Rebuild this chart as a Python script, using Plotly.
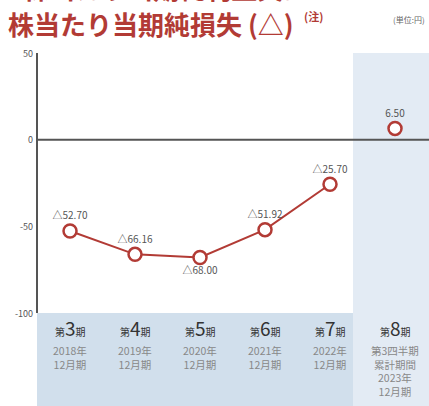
import plotly.graph_objects as go

periods = ["3", "4", "5", "6", "7", "8"]
years = ["2018年<br>12月期", "2019年<br>12月期", "2020年<br>12月期", "2021年<br>12月期", "2022年<br>12月期",
         "第3四半期<br>累計期間<br>2023年<br>12月期"]
values = [-52.70, -66.16, -68.00, -51.92, -25.70]
value_labels = ["△52.70", "△66.16", "△68.00", "△51.92", "△25.70"]
label_pos = ["top center", "top center", "bottom center", "top center", "top center"]
q3_value = [6.50]
q3_label = ["6.50"]
y_ticks = [50, 0, -50, -100]

RED = "#b23b35"
FONT = "Noto Sans CJK JP"
W, H = 429, 406
L, T, B = 37, 53, 93
PW, PH = W - L, H - T - B


def px_x(x):
    return (x - L) / PW


def px_y(y):
    return (H - B - y) / PH


fig = go.Figure()
xs = list(range(len(values)))
fig.add_trace(go.Scatter(
    x=xs, y=values, mode="lines+markers+text",
    line=dict(color=RED, width=2),
    marker=dict(size=13, color="white", line=dict(color=RED, width=2.5)),
    text=value_labels, textposition=label_pos,
    textfont=dict(size=10, color="#555", family=FONT),
    cliponaxis=False, showlegend=False))
fig.add_trace(go.Scatter(
    x=[5], y=q3_value, mode="markers+text",
    marker=dict(size=13, color="white", line=dict(color=RED, width=2.5)),
    text=q3_label, textposition="top center",
    textfont=dict(size=10, color="#555", family=FONT),
    cliponaxis=False, showlegend=False))

split = px_x(353)
shapes = [
    dict(type="rect", xref="paper", yref="paper", x0=split, x1=1.01, y0=px_y(H + 2), y1=1,
         fillcolor="#e3ebf4", line=dict(width=0), layer="below"),
    dict(type="rect", xref="paper", yref="paper", x0=0, x1=split, y0=px_y(H + 2), y1=0,
         fillcolor="#d1dfec", line=dict(width=0), layer="below"),
    dict(type="line", xref="paper", yref="y", x0=0, x1=1, y0=0, y1=0,
         line=dict(color="#555", width=2)),
    dict(type="line", xref="paper", yref="paper", x0=0, x1=0, y0=0, y1=1,
         line=dict(color="#555", width=2)),
]

annotations = []
for i, (p, yr) in enumerate(zip(periods, years)):
    annotations.append(dict(
        x=i, xref="x", y=px_y(327), yref="paper", yanchor="middle", showarrow=False,
        text=f"<span style='font-size:10px'>第</span>{p}<span style='font-size:10px'>期</span>",
        font=dict(size=19, color="#333", family=FONT)))
    annotations.append(dict(
        x=i, xref="x", y=px_y(341), yref="paper", yanchor="top", showarrow=False,
        text=yr, font=dict(size=10.5, color="#888", family=FONT)))

for t in y_ticks:
    annotations.append(dict(
        x=0, xref="paper", xanchor="right", xshift=-2, y=t, yref="y", showarrow=False,
        text=str(t), font=dict(size=9, color="#555", family=FONT)))

annotations += [
    dict(x=px_x(6), y=px_y(-13), xref="paper", yref="paper", xanchor="left", yanchor="middle",
         showarrow=False, text="<b>1株当たり当期純利益又は1</b>",
         font=dict(size=26, color=RED, family=FONT)),
    dict(x=px_x(6), y=px_y(24), xref="paper", yref="paper", xanchor="left", yanchor="middle",
         showarrow=False, text="<b>株当たり当期純損失 (△)</b>",
         font=dict(size=26, color=RED, family=FONT)),
    dict(x=px_x(302), y=px_y(16), xref="paper", yref="paper", xanchor="left", yanchor="middle",
         showarrow=False, text="<b>(注)</b>", font=dict(size=11, color=RED, family=FONT)),
    dict(x=px_x(427), y=px_y(19), xref="paper", yref="paper", xanchor="right", yanchor="middle",
         showarrow=False, text="(単位:円)", font=dict(size=8, color="#666", family=FONT)),
]

fig.update_layout(
    width=W, height=H,
    margin=dict(l=L, r=0, t=T, b=B),
    paper_bgcolor="white", plot_bgcolor="rgba(0,0,0,0)",
    xaxis=dict(range=[-0.508, 5.523], visible=False, fixedrange=True),
    yaxis=dict(range=[-100, 50], visible=False, fixedrange=True),
    shapes=shapes, annotations=annotations,
    font=dict(family=FONT),
)

fig.write_html("out.html", config=dict(displayModeBar=False),
               post_script="document.body.style.margin='0';")
